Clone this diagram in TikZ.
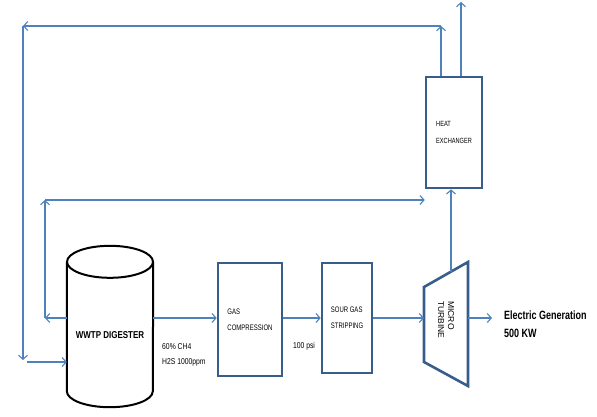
\documentclass[tikz,border=0pt]{standalone}
\usepackage{fontspec}
\setmainfont{Liberation Sans}
\newfontfamily\nar[FakeStretch=0.8]{Liberation Sans}
\newfontfamily\narr[FakeStretch=0.75]{Liberation Sans}
\usetikzlibrary{arrows.meta}
\definecolor{lineblue}{RGB}{79,129,189}
\definecolor{boxblue}{RGB}{56,93,138}
\begin{document}
\begin{tikzpicture}[x=1pt,y=-1pt,
  conn/.style={draw=lineblue, line width=1.1pt, -{Straight Barb[length=4pt,width=9pt,line width=1.1pt]}},
  unit/.style={draw=boxblue, line width=2.6pt, inner sep=0pt, align=left, font=\narr\fontsize{8}{16}\selectfont},
  lbl/.style={inner sep=0pt, align=left, font=\nar\fontsize{8.5}{15}\selectfont}]
\useasboundingbox (0,0) rectangle (597,416);

% units
\node[unit, minimum width=64pt, minimum height=113pt] (gc) at (250,319.5) {GAS\\COMPRESSION};
\node[unit, minimum width=50pt, minimum height=110pt] (sg) at (347,318) {SOUR GAS\\STRIPPING};
\node[unit, minimum width=56pt, minimum height=111pt, font=\narr\fontsize{7.5}{17}\selectfont] (hx) at (454,132.5) {HEAT\\EXCHANGER};

% digester (cylinder)
\node[inner sep=0pt, minimum width=86pt, minimum height=129pt] (dig) at (110,326.5) {};
\draw[black, line width=2pt] (dig.north) ellipse[x radius=43pt, y radius=16pt];
\draw[black, line width=2pt] (dig.north west) -- (dig.south west)
  arc[start angle=180, end angle=360, x radius=43pt, y radius=16pt] -- (dig.north east);
\node[inner sep=0pt, font=\nar\bfseries\fontsize{10}{12}\selectfont] (digtxt) at (110,335) {WWTP DIGESTER};

% micro turbine
\coordinate (tbNW) at (424,287);
\coordinate (tbNE) at (468,262);
\coordinate (tbSE) at (468,386);
\coordinate (tbSW) at (424,362);
\draw[boxblue, line width=2.6pt, line join=miter] (tbNW) -- (tbNE) -- (tbSE) -- (tbSW) -- cycle;
\node[rotate=-90, inner sep=0pt, align=left, font=\fontsize{8.5}{10}\selectfont] (tbtxt) at (446,320) {MICRO\\TURBINE};
\coordinate (tbW) at (424,318);
\coordinate (tbE) at (468,318);
\coordinate (tbT) at (451,272);

% main flow
\coordinate (rowA) at (0,318);
\draw[conn] (dig.east |- rowA) -- (gc.west |- rowA);
\draw[conn] (gc.east |- rowA) -- (sg.west |- rowA);
\draw[conn] (sg.east |- rowA) -- (tbW);
\coordinate (elec) at (492,318);
\draw[conn] (tbE) -- (elec);
\draw[conn] (tbT) -- (hx.south -| tbT);

% outer loop
\coordinate (c1) at (441,26);
\coordinate (c2) at (23,26);
\coordinate (c3) at (23,360);
\coordinate (c4) at (27,362);
\draw[conn] (hx.north -| c1) -- (c1);
\draw[conn] (c1) -- (c2);
\draw[conn] (c2) -- (c3);
\draw[conn] (c4) -- (dig.west |- c4);

% exhaust
\coordinate (ex) at (461,2);
\draw[conn] (hx.north -| ex) -- (ex);

% inner loop
\coordinate (d1) at (45,318);
\coordinate (d2) at (45,200);
\draw[conn] (dig.west |- d1) -- (d1);
\draw[conn] (d1) -- (d2);
\draw[conn] (d2) -- (hx.west |- d2);

% labels
\node[lbl, anchor=west] (gas) at (162,354.5) {60\% CH4\\H2S 1000ppm};
\node[lbl] (psi) at (304,346) {100 psi};
\node[inner sep=0pt, anchor=west, align=left, font=\narr\bfseries\fontsize{12}{18}\selectfont] (eg) at (504,324) {Electric Generation\\500 KW};
\end{tikzpicture}
\end{document}
